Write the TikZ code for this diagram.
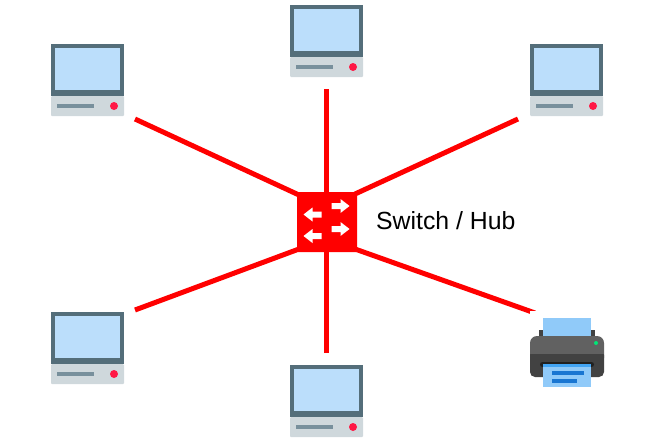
\documentclass[tikz,border=0pt]{standalone}
\usepackage{fontspec}
\setmainfont{Liberation Sans}
\definecolor{frameC}{HTML}{546E7A}
\definecolor{screenC}{HTML}{BBDEFB}
\definecolor{baseC}{HTML}{CFD8DC}
\definecolor{slotC}{HTML}{78909C}
\definecolor{dotC}{HTML}{FF1744}
\definecolor{paperC}{HTML}{90CAF9}
\definecolor{paperD}{HTML}{42A5F5}
\definecolor{inkC}{HTML}{1976D2}
\definecolor{printerA}{HTML}{616161}
\definecolor{printerB}{HTML}{424242}
\definecolor{printerC}{HTML}{212121}
\definecolor{ledC}{HTML}{00E676}
\tikzset{
  x=1pt,y=-1pt,
  link/.style={draw=red,line width=5pt},
  switchbox/.style={fill=red,draw=none,minimum size=60pt,inner sep=0pt,rounded corners=1pt},
  whitearrow/.style={fill=white,draw=none},
  pics/computer/.style={code={
    \fill[baseC,rounded corners=1pt] (0,52) rectangle (73,72);
    \fill[frameC] (0,0) rectangle (73,52);
    \fill[screenC] (4,4) rectangle (69,46);
    \fill[slotC] (6,60) rectangle (43,64);
    \fill[dotC] (63,62) circle[radius=4];
  }},
  pics/swarrow/.style={code={
    \fill[whitearrow] (-9,-3) -- (0,-3) -- (0,-7) -- (9,0) -- (0,7) -- (0,3) -- (-9,3) -- cycle;
  }},
}
\begin{document}
\begin{tikzpicture}
\useasboundingbox (0,0) rectangle (659,447);
\coordinate (tl) at (135,119);
\coordinate (tc) at (326,89);
\coordinate (tr) at (518,119);
\coordinate (bl) at (135,310);
\coordinate (bc) at (326,353);
\coordinate (pr) at (535,313);
\node[switchbox] (hub) at (327,222) {};
\draw[link] (tl) -- (299,195);
\draw[link] (tc) -- (hub.north -| tc);
\draw[link] (tr) -- (355,194);
\draw[link] (bl) -- (299,249);
\draw[link] (bc) -- (hub.south -| bc);
\draw[link] (pr) -- (355,249);
\pic at (51,44) {computer};
\pic at (290,5) {computer};
\pic at (530,44) {computer};
\pic at (51,312) {computer};
\pic at (290,365) {computer};
\pic at (340.5,206) {swarrow};
\pic at (340.5,229) {swarrow};
\pic[xscale=-1] at (312.5,214.5) {swarrow};
\pic[xscale=-1] at (312.5,236) {swarrow};
\node[anchor=west,inner sep=0pt,font=\fontsize{24.8pt}{28pt}\selectfont] (label) at (376,221) {Switch / Hub};
% printer
\fill[white] (530,311) rectangle (545,318);
\fill[paperC] (543,318) rectangle (591,336);
\fill[printerB] (539,330) rectangle (543,337);
\fill[printerB] (591,330) rectangle (595,337);
\fill[printerA,rounded corners=7pt] (530,336) rectangle (604,365);
\fill[printerB,rounded corners=5pt] (530,350) rectangle (604,377);
\fill[printerA] (530,345) rectangle (604,354);
\fill[printerC,rounded corners=2.5pt] (540,362) rectangle (594,367);
\fill[paperC] (543,364) rectangle (591,387);
\fill[paperD] (543,364) rectangle (591,367);
\fill[inkC] (552,371) rectangle (584,375);
\fill[inkC] (552,379) rectangle (577,382.5);
\fill[ledC] (596,343) circle[radius=2];
\end{tikzpicture}
\end{document}
